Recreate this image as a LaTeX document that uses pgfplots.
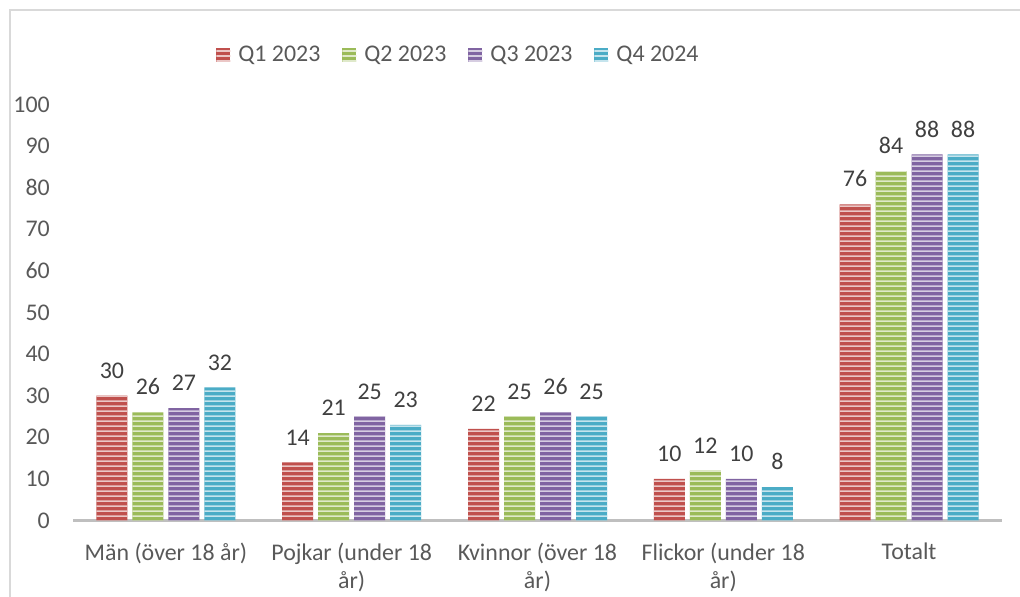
\documentclass[border=0pt]{standalone}
\usepackage{pgfplots}
\pgfplotsset{compat=1.18}
\usepackage{fontspec}
\setmainfont{Carlito}
\usetikzlibrary{patterns}
\definecolor{cRed}{HTML}{C0504D}
\definecolor{cGreen}{HTML}{9BBB59}
\definecolor{cPurple}{HTML}{8064A2}
\definecolor{cBlue}{HTML}{4BACC6}
\definecolor{txt}{HTML}{595959}
\definecolor{lbl}{HTML}{404040}
\definecolor{axl}{HTML}{BFBFBF}
\definecolor{frm}{HTML}{D9D9D9}
\pgfdeclarepatternformonly{hstripes}{\pgfpointorigin}{\pgfpoint{200bp}{5bp}}{\pgfpoint{200bp}{5bp}}{%
  \pgfpathrectangle{\pgfpoint{-1bp}{0bp}}{\pgfpoint{202bp}{2bp}}\pgfusepath{fill}}
\pgfplotstableread{
x q1 q2 q3 q4
0 30 26 27 32
1 14 21 25 23
2 22 25 26 25
3 10 12 10 8
4 76 84 88 88
}\datatable
\tikzset{stripe/.style={fill=#1, draw=none,
  postaction={pattern=hstripes, pattern color=white!68!#1}}}
\newcommand{\fs}{\fontsize{24}{28.5}\selectfont}
\begin{document}
\begin{tikzpicture}[x=1bp,y=1bp]
\path[use as bounding box] (0,0) rectangle (1020,597);
\draw[frm, line width=2bp] (10,0) -- (10,587) -- (1020,587);
\begin{axis}[
  at={(73bp,76.5bp)}, anchor=south west,
  scale only axis, width=929bp, height=416bp,
  xmin=-0.5, xmax=4.5, ymin=0, ymax=100,
  ybar=5bp, bar width=31bp,
  axis x line*=bottom, axis y line=none,
  x axis line style={axl, line width=3bp, -},
  xtick={0,1,2,3,4}, major tick length=0pt,
  xticklabels={{Män (över 18 år)},{Pojkar (under 18\\år)},{Kvinnor (över 18\\år)},{Flickor (under 18\\år)},{Totalt}},
  xticklabel style={font=\fs, text=txt, align=center, inner sep=0pt, anchor=north, yshift=-22bp},
  /pgf/number format/assume math mode=true,
  font=\fs,
  nodes near coords,
  every node near coord/.append style={font=\fs, text=lbl, anchor=south, inner sep=0pt, yshift=17bp},
  legend style={at={(0.154,1.119)}, anchor=west, draw=none, fill=none, inner sep=0pt,
    font=\fs, text=txt,
    /tikz/every odd column/.append style={column sep=6bp},
    /tikz/every even column/.append style={column sep=20bp},
    legend cell align=left},
  legend columns=-1,
  legend image code/.code={\path[#1] (0bp,-7bp) rectangle (14bp,7bp);},
]
\addplot[stripe=cRed] table[x=x,y=q1]{\datatable};
\addplot[stripe=cGreen] table[x=x,y=q2]{\datatable};
\addplot[stripe=cPurple] table[x=x,y=q3]{\datatable};
\addplot[stripe=cBlue] table[x=x,y=q4]{\datatable};
\legend{Q1 2023,Q2 2023,Q3 2023,Q4 2024}
\end{axis}
\begin{axis}[
  at={(73bp,76.5bp)}, anchor=south west,
  scale only axis, width=929bp, height=416bp,
  xmin=-0.5, xmax=4.5, ymin=0, ymax=100,
  axis x line=none, axis y line*=left, y axis line style={draw=none},
  ytick={0,10,...,100}, major tick length=0pt,
  /pgf/number format/assume math mode=true,
  yticklabel style={font=\fs, text=txt, inner sep=0pt, anchor=east, xshift=-23bp},
]
\addplot[draw=none] coordinates {(0,0)};
\end{axis}
\end{tikzpicture}
\end{document}
